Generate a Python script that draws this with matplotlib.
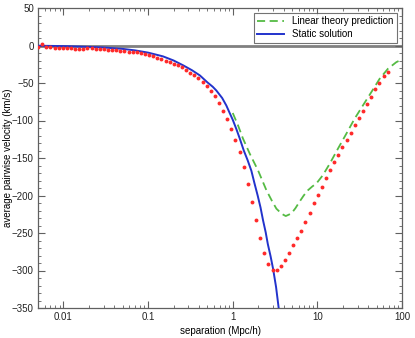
import matplotlib
matplotlib.use("Agg")
import matplotlib.pyplot as plt
from matplotlib.ticker import FixedLocator, MultipleLocator, LogLocator, NullFormatter

plt.rcParams['font.family'] = ['Liberation Sans', 'DejaVu Sans']

# measured pairwise velocity (red points)
sep_pts = [0.00501, 0.00561, 0.00627, 0.00701, 0.00784, 0.00877, 0.00981, 0.01097, 0.01227, 0.01372,
           0.01535, 0.01716, 0.01919, 0.02147, 0.02401, 0.02685, 0.03003, 0.03358, 0.03756, 0.04200,
           0.04699, 0.05255, 0.05876, 0.06572, 0.07350, 0.08222, 0.09196, 0.1028, 0.1150, 0.1286,
           0.1439, 0.1609, 0.1800, 0.2013, 0.2251, 0.2518, 0.2816, 0.3149, 0.3522, 0.3939,
           0.4406, 0.4928, 0.5511, 0.6163, 0.6893, 0.7709, 0.8622, 0.9643, 1.078, 1.206,
           1.349, 1.508, 1.687, 1.887, 2.110, 2.360, 2.640, 2.952, 3.302, 3.693,
           4.130, 4.619, 5.166, 5.778, 6.462, 7.228, 8.084, 9.042, 10.11, 11.31,
           12.65, 14.15, 15.82, 17.70, 19.79, 22.13, 24.76, 27.69, 30.97, 34.64,
           38.73, 43.32, 48.45, 54.19, 60.61, 67.78]
vel_pts = [-2, 1.5, -2, -2.5, -3, -3, -3, -3, -3.5, -4,
           -5, -4, -3.5, -3.5, -4, -5, -5, -5.5, -6.5, -6.5,
           -7, -7.5, -8, -8.5, -9, -10, -11, -12, -13.7, -16.4,
           -18.3, -20, -21.7, -24, -26.6, -29.3, -32, -36, -39.6, -43.6,
           -48.4, -53.7, -60.9, -67.9, -76.9, -87.5, -98.6, -111.5, -125.6, -142.6,
           -162, -185, -209, -233, -256, -276, -291, -299, -299, -294,
           -286, -277, -266, -256, -247, -235.5, -223, -210.5, -199, -188,
           -176.3, -165.5, -155.5, -145.6, -135.9, -126.2, -116.3, -106.6, -96.9, -87,
           -77.7, -68.3, -58.2, -49.7, -40.9, -35]

# linear theory prediction (green dashed)
sep_lin = [1.0, 1.15, 1.32, 1.6, 1.99, 2.5, 2.9, 3.28, 3.8, 4.23, 4.93, 5.5, 6.18, 6.9, 7.74,
           8.7, 9.73, 11.6, 14.0, 17.5, 22.0, 27.5, 34.5, 43.4, 54.4, 68.2, 85.7, 100.0]
vel_lin = [-90, -106, -124, -145, -166.5, -193, -207, -217.6, -224.5, -227.4, -224, -217, -208, -200, -193,
           -188, -184, -173, -157.6, -137.6, -117.6, -97.7, -80, -62.2, -44.4, -31, -22.2, -18.5]

# static solution (blue solid)
sep_sta = [0.005, 0.01, 0.02, 0.03, 0.05, 0.07, 0.1, 0.15, 0.2, 0.26, 0.33, 0.41, 0.5, 0.58, 0.64,
           0.75, 0.84, 0.92, 1.0, 1.1, 1.21, 1.35, 1.5, 1.66, 1.8, 1.97, 2.13, 2.28, 2.45, 2.6,
           2.8, 3.0, 3.25, 3.49]
vel_sta = [-0.3, -0.8, -1.8, -2.7, -4.5, -6.5, -9.5, -14.5, -20, -26.5, -33, -40, -49, -55, -60,
           -70, -80, -90, -99, -111, -124, -140, -153, -167, -183, -200, -216, -233, -249, -265,
           -281, -298, -322, -350]

fig = plt.figure(figsize=(4.15, 3.38), dpi=100)
ax = fig.add_axes([38/415, 1-308/338, (402-38)/415, (308-8)/338])

ax.axhline(0, color='#808080', lw=2.0, zorder=1)
ax.plot(sep_lin, vel_lin, color='#55bb44', lw=1.3, ls=(0, (4.5, 2.5)), label='Linear theory prediction', zorder=2)
ax.plot(sep_sta, vel_sta, color='#2233cc', lw=1.4, label='Static solution', zorder=3)
ax.plot(sep_pts, vel_pts, 'o', color='#ff2a2a', ms=2.8, mec='none', zorder=4)

ax.set_xscale('log')
ax.set_xlim(0.005, 100)
ax.set_ylim(-350, 50)

ax.xaxis.set_major_locator(FixedLocator([0.01, 0.1, 1, 10, 100]))
ax.set_xticklabels(['0.01', '0.1', '1', '10', '100'])
ax.xaxis.set_minor_locator(LogLocator(base=10, subs=range(2, 10)))
ax.xaxis.set_minor_formatter(NullFormatter())
ax.yaxis.set_major_locator(MultipleLocator(50))
ax.yaxis.set_minor_locator(MultipleLocator(10))

for s in ax.spines.values():
    s.set_color('#606060')
    s.set_linewidth(0.9)
ax.tick_params(which='both', direction='in', top=True, right=True, colors='#606060',
               labelcolor='#222222', labelsize=7, pad=3)
ax.tick_params(which='major', length=5, width=0.8)
ax.tick_params(which='minor', length=2.5, width=0.6)

ax.set_xlabel('separation (Mpc/h)', fontsize=7, labelpad=3)
ax.set_ylabel('average pairwise velocity (km/s)', fontsize=7, labelpad=-0.5)

leg = ax.legend(loc='upper right', fontsize=7, frameon=True, fancybox=False,
                edgecolor='#505050', borderaxespad=0.5, handlelength=2.7,
                borderpad=0.35, labelspacing=0.3, handletextpad=0.9)
leg.get_frame().set_linewidth(0.8)

fig.savefig('out.png', dpi=100)
